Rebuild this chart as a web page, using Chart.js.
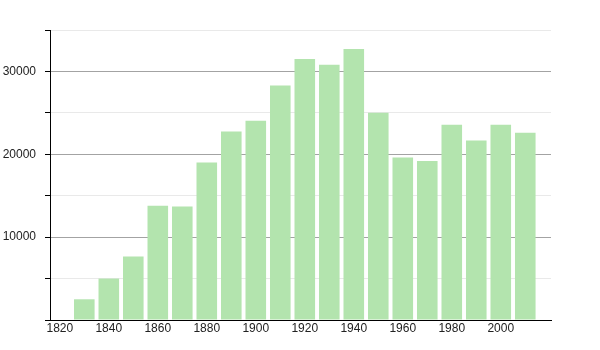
<!DOCTYPE html>
<html>
<head>
<meta charset="utf-8">
<script src="https://cdn.jsdelivr.net/npm/chart.js@4/dist/chart.umd.min.js"></script>
<style>
    html, body { margin: 0; padding: 0; background: #fff; }
    #wrap { width: 600px; height: 350px; position: relative; }
</style>
</head>
<body>
<div id="wrap"><canvas id="popChart"></canvas></div>
<script>
// data
var years = [1830, 1840, 1850, 1860, 1870, 1880, 1890, 1900, 1910, 1920,
             1930, 1940, 1950, 1960, 1970, 1980, 1990, 2000, 2010];
var population = [2500, 5000, 7650, 13800, 13700, 19000, 22750, 24050, 28300, 31500,
                  30800, 32700, 25000, 19600, 19200, 23550, 21650, 23550, 22600];
var xTickYears = [1820, 1840, 1860, 1880, 1900, 1920, 1940, 1960, 1980, 2000];
var yTickLabels = [10000, 20000, 30000];

var labelFont = { family: '"Liberation Sans Narrow", "Liberation Sans", Arial, sans-serif', size: 12 };

document.addEventListener('DOMContentLoaded', function() {
    var ctx = document.getElementById('popChart').getContext('2d');

    var points = years.map(function(y, i) {
        return { x: y, y: population[i] };
    });

    new Chart(ctx, {
        type: 'bar',
        data: {
            datasets: [{
                data: points,
                backgroundColor: 'rgb(179, 228, 174)',
                borderWidth: 0,
                categoryPercentage: 1,
                barPercentage: 0.84
            }]
        },
        options: {
            responsive: true,
            maintainAspectRatio: false,
            animation: false,
            layout: { padding: { left: 0, top: 30, right: 49, bottom: 0 } },
            plugins: {
                legend: { display: false },
                tooltip: { enabled: false }
            },
            scales: {
                x: {
                    type: 'linear',
                    offset: false,
                    min: 1816,
                    max: 2020.5,
                    afterBuildTicks: function(scale) {
                        scale.ticks = xTickYears.map(function(v) { return { value: v }; });
                    },
                    afterFit: function(scale) { scale.height = 30; },
                    grid: { display: false, drawTicks: false },
                    border: { display: true, color: '#000', width: 1 },
                    ticks: {
                        autoSkip: false,
                        maxRotation: 0,
                        padding: 1,
                        color: '#222',
                        font: labelFont,
                        callback: function(v) { return String(v); }
                    }
                },
                y: {
                    min: 0,
                    max: 35000,
                    afterFit: function(scale) { scale.width = 50; },
                    border: { display: true, color: '#000', width: 1 },
                    grid: {
                        color: function(c) {
                            if (c.tick && c.tick.value % 10000 === 0) return '#a3a3a3';
                            return '#e9e9e9';
                        },
                        tickColor: '#000',
                        tickLength: 5,
                        lineWidth: 1
                    },
                    ticks: {
                        stepSize: 5000,
                        padding: 9,
                        color: '#222',
                        font: labelFont,
                        callback: function(v) {
                            return yTickLabels.indexOf(v) >= 0 ? String(v) : '';
                        }
                    }
                }
            }
        }
    });
});
</script>
</body>
</html>
